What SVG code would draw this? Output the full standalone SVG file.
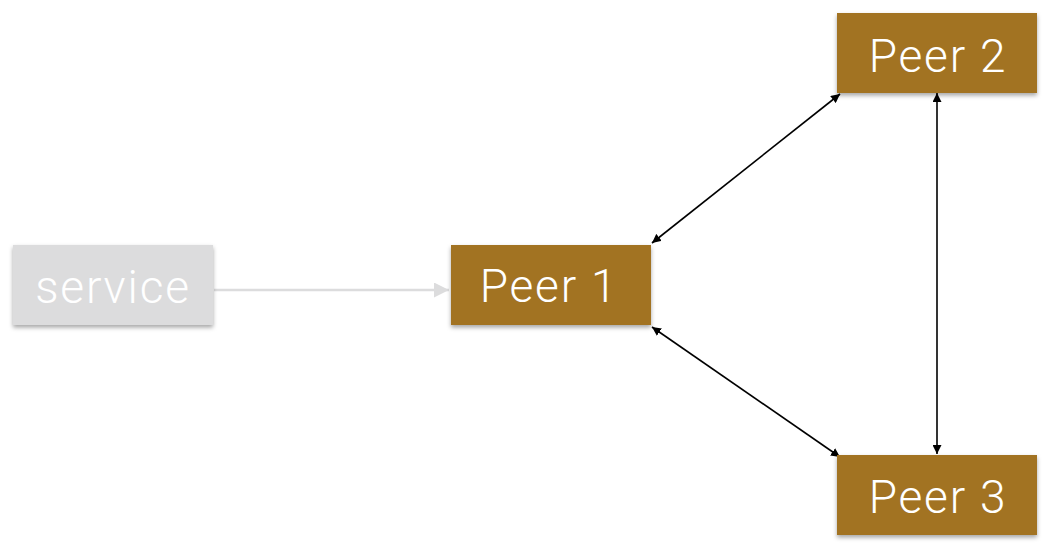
<svg xmlns="http://www.w3.org/2000/svg" width="1052" height="552" viewBox="0 0 1052 552">
  <style>
    .peer rect { fill: #a27321; }
    .svc rect { fill: #dcdcdd; }
    text { font-family: Roboto, "Liberation Sans", sans-serif; font-weight: 300; font-size: 46px; letter-spacing: 1.8px; fill: #ffffff; text-anchor: middle; }
    .link { stroke: #000000; stroke-width: 1.6; fill: none; marker-start: url(#ahs); marker-end: url(#ahe); }
    .glink { stroke: #dcdcdd; stroke-width: 2.5; fill: none; marker-end: url(#ahg); }
  </style>
  <defs>
    <filter id="sh" x="-10%" y="-20%" width="120%" height="150%">
      <feDropShadow dx="0" dy="2.5" stdDeviation="2" flood-color="#000" flood-opacity="0.35"/>
    </filter>
    <marker id="ahe" viewBox="0 0 10 10" refX="10" refY="5" markerWidth="9" markerHeight="9" markerUnits="userSpaceOnUse" orient="auto">
      <path d="M0,0 L10,5 L0,10 z" fill="#000"/>
    </marker>
    <marker id="ahs" viewBox="0 0 10 10" refX="0" refY="5" markerWidth="9" markerHeight="9" markerUnits="userSpaceOnUse" orient="auto">
      <path d="M10,0 L0,5 L10,10 z" fill="#000"/>
    </marker>
    <marker id="ahg" viewBox="0 0 10 10" refX="10" refY="5" markerWidth="15" markerHeight="15" markerUnits="userSpaceOnUse" orient="auto">
      <path d="M0,0 L10,5 L0,10 z" fill="#dcdcdd"/>
    </marker>
  </defs>
  <rect width="1052" height="552" fill="#ffffff"/>
  <g id="connectors">
    <line class="glink" x1="214" y1="290" x2="449" y2="290"/>
    <line class="link" x1="652" y1="243" x2="840" y2="94"/>
    <line class="link" x1="652" y1="327" x2="840" y2="457"/>
    <line class="link" x1="937" y1="93" x2="937" y2="454"/>
  </g>
  <g id="service" class="svc">
    <rect x="13" y="245" width="200" height="80" filter="url(#sh)"/>
    <text x="113" y="303">service</text>
  </g>
  <g id="peer1" class="peer">
    <rect x="451" y="245" width="200" height="80" filter="url(#sh)"/>
    <text x="549" y="302">Peer 1</text>
  </g>
  <g id="peer2" class="peer">
    <rect x="837" y="13" width="200" height="80" filter="url(#sh)"/>
    <text x="938" y="72">Peer 2</text>
  </g>
  <g id="peer3" class="peer">
    <rect x="837" y="455" width="200" height="80" filter="url(#sh)"/>
    <text x="938" y="513">Peer 3</text>
  </g>
</svg>
